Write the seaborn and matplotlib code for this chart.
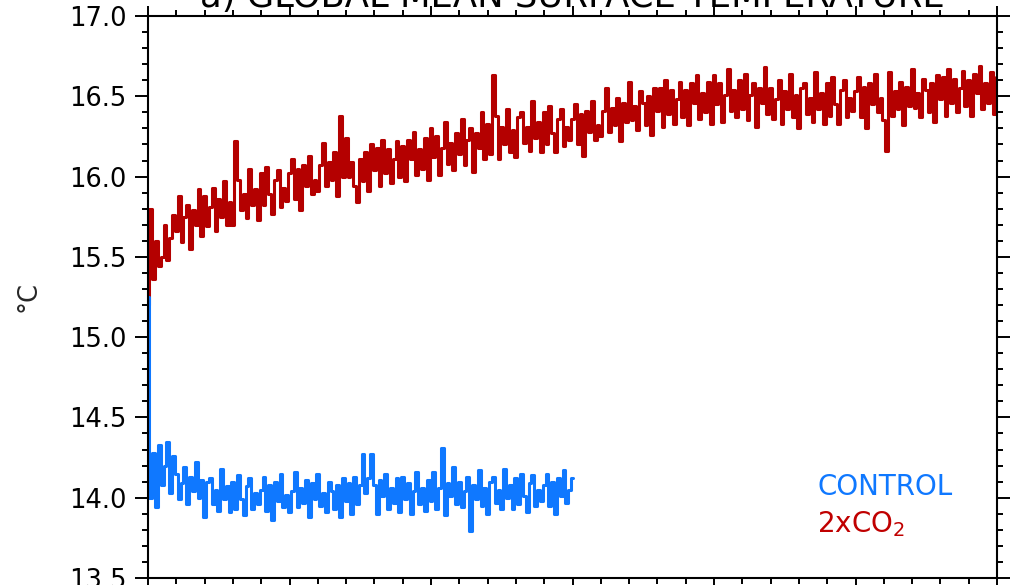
import numpy as np
import pandas as pd
import matplotlib
matplotlib.use("Agg")
import matplotlib.pyplot as plt
from matplotlib.ticker import MultipleLocator, FormatStrFormatter
import seaborn as sns

# 2xCO2 run, annual global mean surface temperature (deg C), years 0..300
co2_values = [
    15.20, 15.80, 15.36, 15.60, 15.44, 15.50, 15.70, 15.48, 15.62, 15.76,
    15.66, 15.88, 15.59, 15.75, 15.82, 15.55, 15.79, 15.70, 15.92, 15.63,
    15.88, 15.69, 15.81, 15.93, 15.66, 15.86, 15.75, 15.97, 15.70, 15.84,
    15.70, 16.22, 15.98, 15.79, 15.89, 15.74, 16.05, 15.82, 15.92, 15.73,
    16.02, 15.82, 16.06, 15.89, 15.77, 15.98, 16.04, 15.81, 15.93, 15.85,
    16.02, 16.11, 15.86, 16.05, 15.79, 16.07, 15.94, 16.13, 15.89, 15.98,
    15.91, 16.07, 16.21, 15.94, 16.09, 15.98, 16.15, 15.88, 16.38, 16.00,
    16.24, 16.00, 16.09, 15.94, 15.84, 16.11, 15.97, 16.15, 15.91, 16.20,
    16.04, 16.18, 15.94, 16.23, 16.02, 16.17, 15.96, 16.11, 16.22, 16.00,
    16.19, 15.97, 16.23, 16.11, 16.28, 16.01, 16.17, 16.05, 16.24, 15.98,
    16.30, 16.12, 16.25, 16.01, 16.18, 16.34, 16.08, 16.21, 16.04, 16.27,
    16.14, 16.36, 16.07, 16.23, 16.30, 16.03, 16.27, 16.18, 16.40, 16.11,
    16.33, 16.14, 16.63, 16.38, 16.11, 16.31, 16.20, 16.42, 16.15, 16.29,
    16.12, 16.37, 16.40, 16.21, 16.31, 16.16, 16.47, 16.24, 16.34, 16.15,
    16.40, 16.20, 16.44, 16.27, 16.15, 16.36, 16.42, 16.19, 16.31, 16.23,
    16.36, 16.45, 16.20, 16.39, 16.13, 16.41, 16.28, 16.47, 16.23, 16.32,
    16.25, 16.41, 16.55, 16.28, 16.43, 16.32, 16.49, 16.22, 16.46, 16.34,
    16.59, 16.35, 16.44, 16.29, 16.53, 16.46, 16.32, 16.50, 16.26, 16.55,
    16.41, 16.55, 16.31, 16.60, 16.39, 16.54, 16.33, 16.48, 16.59, 16.37,
    16.54, 16.32, 16.58, 16.46, 16.63, 16.36, 16.52, 16.40, 16.59, 16.33,
    16.63, 16.45, 16.58, 16.34, 16.51, 16.67, 16.41, 16.54, 16.37, 16.60,
    16.42, 16.64, 16.35, 16.51, 16.58, 16.31, 16.55, 16.46, 16.68, 16.39,
    16.55, 16.36, 16.48, 16.60, 16.33, 16.53, 16.42, 16.64, 16.37, 16.51,
    16.30, 16.55, 16.58, 16.39, 16.49, 16.34, 16.65, 16.42, 16.52, 16.33,
    16.58, 16.38, 16.62, 16.45, 16.33, 16.54, 16.60, 16.37, 16.49, 16.41,
    16.53, 16.62, 16.37, 16.56, 16.30, 16.58, 16.45, 16.64, 16.40, 16.49,
    16.35, 16.16, 16.65, 16.38, 16.53, 16.42, 16.59, 16.32, 16.56, 16.44,
    16.67, 16.43, 16.52, 16.37, 16.61, 16.54, 16.40, 16.58, 16.34, 16.63,
    16.48, 16.62, 16.38, 16.67, 16.46, 16.61, 16.40, 16.55, 16.66, 16.44,
    16.60, 16.38, 16.64, 16.52, 16.69, 16.42, 16.58, 16.46, 16.65, 16.39,
    16.62,
]

# Control run, years 0..150
control_values = [
    15.25, 14.00, 14.28, 13.94, 14.33, 14.08, 14.20, 14.35, 14.03, 14.26,
    14.15, 13.99, 14.09, 14.19, 13.96, 14.13, 14.04, 14.22, 14.00, 14.11,
    13.88, 14.10, 14.12, 13.96, 14.05, 13.92, 14.18, 13.99, 14.07, 13.91,
    14.10, 13.93, 14.14, 13.99, 13.89, 14.07, 14.12, 13.93, 14.03, 13.96,
    14.05, 14.13, 13.92, 14.08, 13.86, 14.10, 13.98, 14.15, 13.94, 14.02,
    13.91, 14.04, 14.16, 13.94, 14.06, 13.97, 14.11, 13.88, 14.09, 13.99,
    14.15, 13.95, 14.03, 13.91, 14.10, 14.04, 13.93, 14.08, 13.88, 14.12,
    13.98, 14.09, 13.90, 14.13, 13.96, 14.08, 14.27, 14.03, 14.12, 14.27,
    14.08, 13.90, 14.11, 14.01, 14.15, 13.93, 14.06, 13.97, 14.12, 13.91,
    14.13, 13.99, 14.09, 13.90, 14.04, 14.16, 13.96, 14.06, 13.92, 14.11,
    13.98, 14.16, 13.93, 14.06, 14.31, 13.89, 14.09, 14.01, 14.19, 13.96,
    14.10, 13.94, 14.04, 14.13, 13.79, 14.08, 13.99, 14.17, 13.95, 14.06,
    13.90, 14.10, 14.13, 13.97, 14.05, 13.93, 14.18, 14.00, 14.08, 13.93,
    14.12, 13.96, 14.15, 14.01, 13.91, 14.09, 14.14, 13.95, 14.05, 13.98,
    14.08, 14.15, 13.95, 14.10, 13.90, 14.12, 14.01, 14.17, 13.97, 14.05,
    14.12,
]

co2_years = list(range(len(co2_values)))
control_years = list(range(len(control_values)))

title_text = "a) GLOBAL MEAN SURFACE TEMPERATURE"
ylabel_text = "°C"
legend_labels = ["CONTROL", "2xCO$_2$"]

blue = "#0f78ff"
red = "#b40000"

sns.set_style("ticks")
plt.rcParams["font.family"] = ["DejaVu Sans"]
plt.rcParams["mathtext.fontset"] = "dejavusans"

fig = plt.figure(figsize=(10.10, 5.85), dpi=100)
ax = fig.add_axes([148 / 1010, 7 / 585, 849 / 1010, 562 / 585])

df_co2 = pd.DataFrame({"year": co2_years, "temp": co2_values})
df_ctl = pd.DataFrame({"year": control_years, "temp": control_values})

sns.lineplot(data=df_co2, x="year", y="temp", ax=ax, color=red,
             linewidth=2.2, drawstyle="steps-mid", estimator=None)
sns.lineplot(data=df_ctl, x="year", y="temp", ax=ax, color=blue,
             linewidth=2.2, drawstyle="steps-mid", estimator=None)

ax.set_xlim(0, 300)
ax.set_ylim(13.5, 17.0)

ax.xaxis.set_major_locator(MultipleLocator(50))
ax.xaxis.set_minor_locator(MultipleLocator(10))
ax.yaxis.set_major_locator(MultipleLocator(0.5))
ax.yaxis.set_minor_locator(MultipleLocator(0.1))
ax.yaxis.set_major_formatter(FormatStrFormatter("%.1f"))

for s in ax.spines.values():
    s.set_linewidth(1.5)
    s.set_color("black")
    s.set_visible(True)

ax.tick_params(axis="both", which="both", direction="out", width=1.4,
               top=True, right=True, colors="black")
ax.tick_params(axis="y", which="major", length=9.5, labelsize=18.5, pad=6)
ax.tick_params(axis="y", which="minor", length=4)
ax.tick_params(axis="x", which="major", length=7, labelbottom=False)
ax.tick_params(axis="x", which="minor", length=4)

ax.set_xlabel("")
ax.set_ylabel(ylabel_text, fontsize=18.5)
ax.yaxis.set_label_coords(-0.126, 0.5)

ax.text(0.5, 1.016, title_text, transform=ax.transAxes, ha="center",
        va="baseline", fontsize=25.5, color="black", clip_on=False)

ax.text(236.5, 14.017, legend_labels[0], color=blue, fontsize=20,
        ha="left", va="baseline")
ax.text(236.5, 13.787, legend_labels[1], color="#c00000", fontsize=20,
        ha="left", va="baseline")

fig.savefig("out.png", dpi=100)
